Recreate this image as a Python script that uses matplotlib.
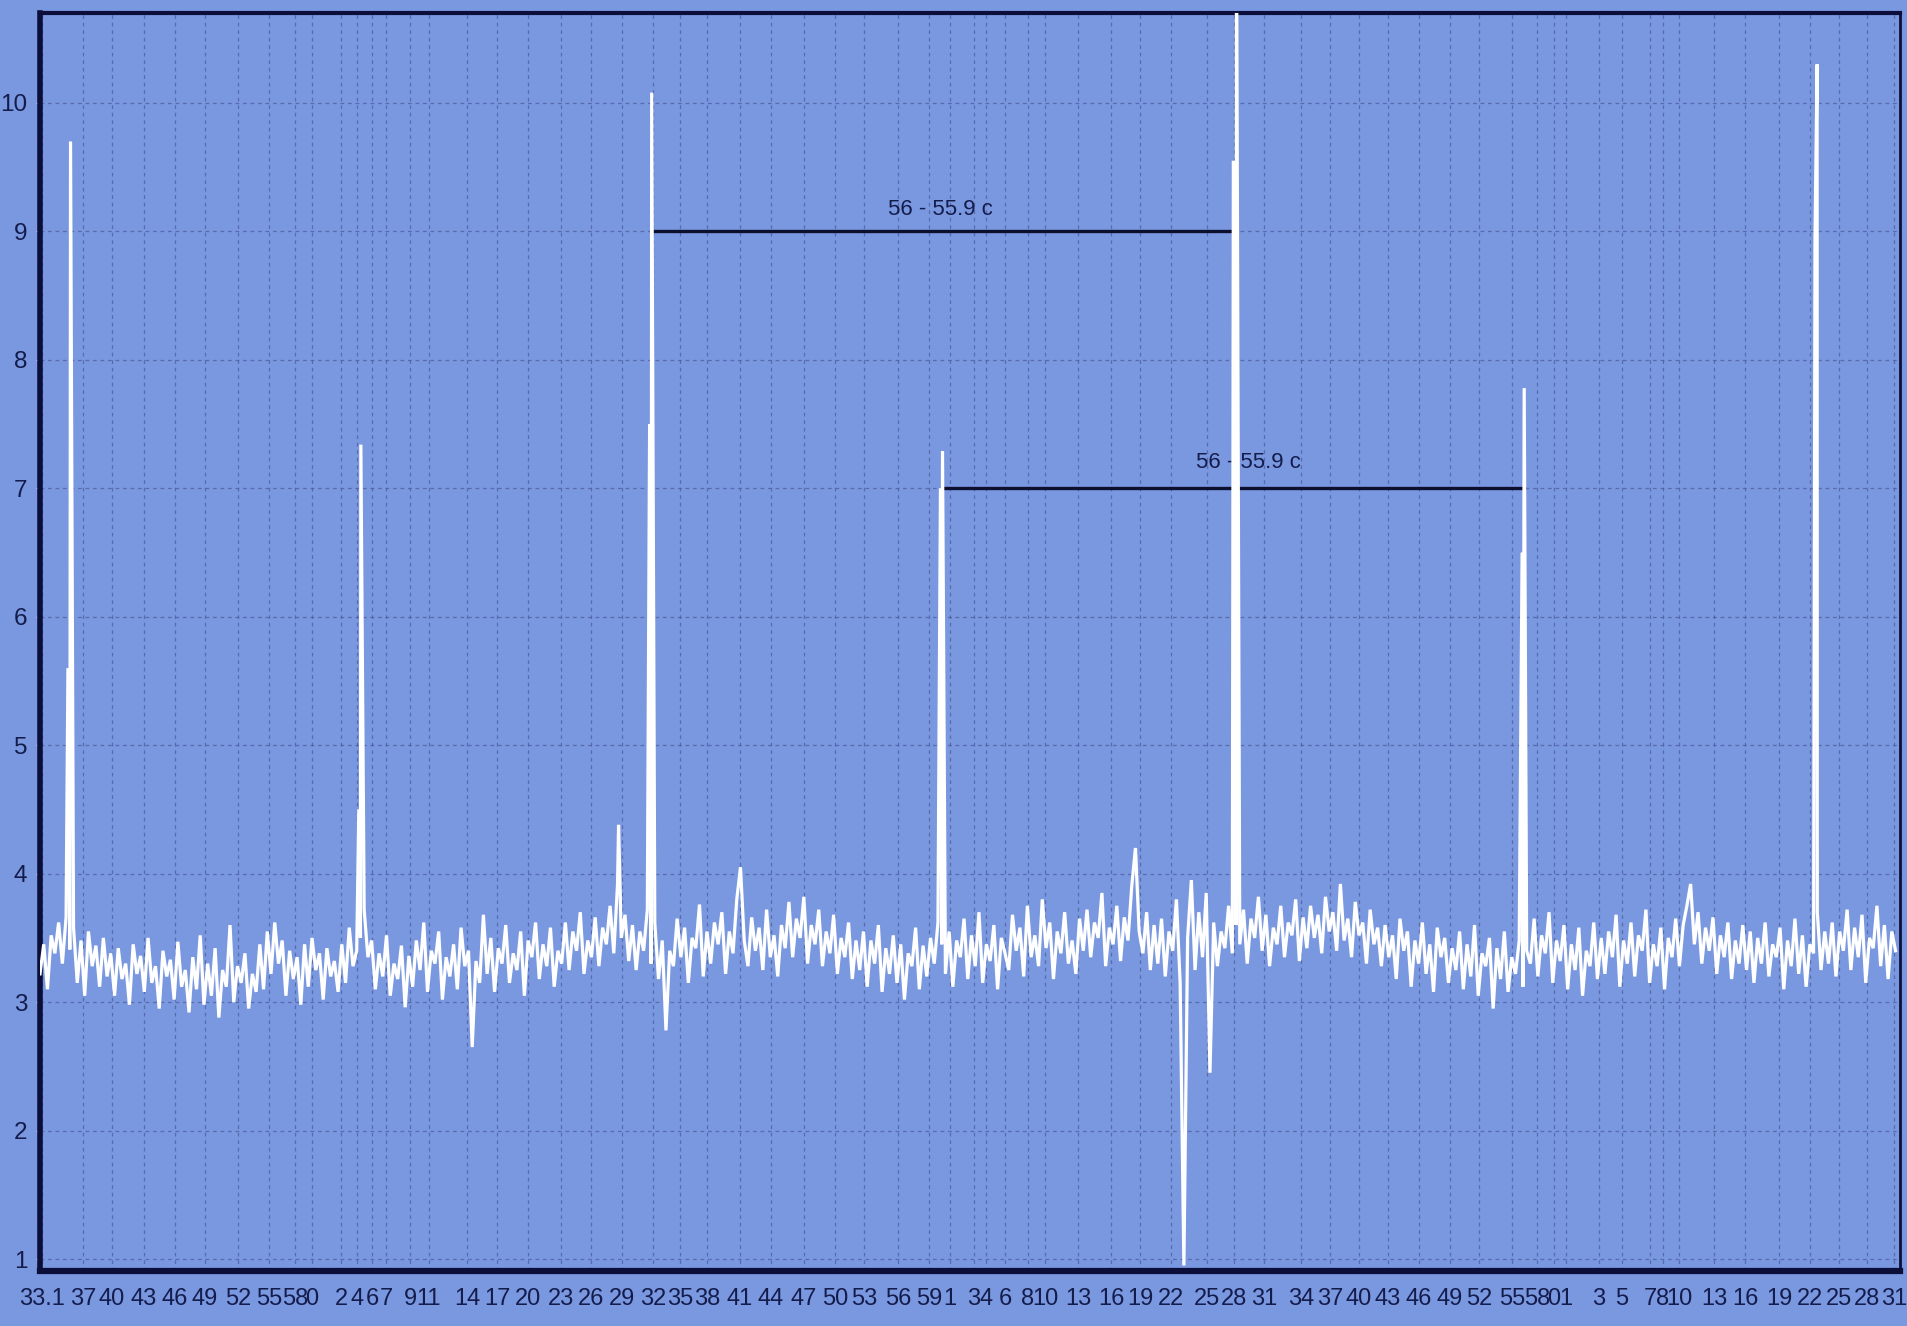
import numpy as np
import matplotlib
matplotlib.use("Agg")
import matplotlib.pyplot as plt
from matplotlib.ticker import MultipleLocator

# ---------------- data ----------------
sample_period = 0.36  # seconds between samples of the baseline signal

signal = [
    3.22, 3.45, 3.10, 3.52, 3.38, 3.62, 3.30, 3.66, 3.41, 3.58, 3.15, 3.48, 3.05, 3.55, 3.28, 3.44, 3.12, 3.50, 3.20, 3.38,
    3.05, 3.42, 3.18, 3.30, 2.98, 3.45, 3.22, 3.36, 3.08, 3.50, 3.15, 3.28, 2.95, 3.40, 3.20, 3.33, 3.02, 3.47, 3.12, 3.25,
    2.92, 3.35, 3.10, 3.52, 2.98, 3.30, 3.05, 3.42, 2.88, 3.25, 3.12, 3.60, 3.00, 3.28, 3.15, 3.38, 2.95, 3.22, 3.08, 3.45,
    3.10, 3.55, 3.22, 3.62, 3.30, 3.48, 3.05, 3.40, 3.18, 3.35, 2.98, 3.45, 3.12, 3.50, 3.25, 3.38, 3.02, 3.42, 3.20, 3.32,
    3.08, 3.45, 3.15, 3.58, 3.28, 3.40, 3.50, 3.72, 3.35, 3.48, 3.10, 3.38, 3.20, 3.52, 3.05, 3.30, 3.18, 3.44, 2.96, 3.36,
    3.12, 3.48, 3.25, 3.62, 3.08, 3.40, 3.30, 3.55, 3.02, 3.35, 3.20, 3.45, 3.10, 3.58, 3.28, 3.40, 2.65, 3.32, 3.15, 3.68,
    3.22, 3.50, 3.08, 3.42, 3.30, 3.60, 3.15, 3.38, 3.25, 3.55, 3.05, 3.48, 3.35, 3.62, 3.18, 3.45, 3.28, 3.58, 3.12, 3.40,
    3.30, 3.62, 3.25, 3.55, 3.40, 3.70, 3.22, 3.48, 3.35, 3.66, 3.28, 3.58, 3.45, 3.75, 3.38, 3.92, 3.50, 3.68, 3.32, 3.60,
    3.25, 3.55, 3.40, 3.72, 3.30, 3.62, 3.18, 3.48, 2.78, 3.40, 3.28, 3.65, 3.35, 3.58, 3.15, 3.50, 3.42, 3.76, 3.20, 3.55,
    3.30, 3.62, 3.45, 3.70, 3.22, 3.55, 3.38, 3.80, 4.05, 3.48, 3.28, 3.66, 3.40, 3.58, 3.25, 3.72, 3.35, 3.52, 3.20, 3.60,
    3.42, 3.78, 3.35, 3.65, 3.50, 3.82, 3.30, 3.60, 3.45, 3.72, 3.28, 3.55, 3.38, 3.68, 3.22, 3.50, 3.35, 3.62, 3.18, 3.48,
    3.25, 3.55, 3.12, 3.48, 3.30, 3.60, 3.08, 3.42, 3.22, 3.52, 3.15, 3.45, 3.02, 3.38, 3.28, 3.58, 3.10, 3.44, 3.20, 3.50,
    3.30, 3.62, 3.45, 3.22, 3.55, 3.12, 3.48, 3.35, 3.65, 3.18, 3.52, 3.28, 3.70, 3.15, 3.45, 3.32, 3.60, 3.10, 3.50, 3.38,
    3.25, 3.68, 3.40, 3.58, 3.20, 3.75, 3.35, 3.52, 3.28, 3.80, 3.42, 3.62, 3.18, 3.55, 3.38, 3.70, 3.30, 3.48, 3.22, 3.65,
    3.40, 3.72, 3.35, 3.62, 3.50, 3.85, 3.28, 3.58, 3.45, 3.75, 3.32, 3.66, 3.48, 3.90, 4.20, 3.55, 3.38, 3.70, 3.25, 3.60,
    3.30, 3.65, 3.20, 3.55, 3.40, 3.80, 3.15, 0.95, 3.50, 3.95, 3.25, 3.70, 3.35, 3.85, 2.45, 3.62, 3.28, 3.55, 3.42, 3.75,
    3.38, 3.60, 3.45, 3.72, 3.30, 3.65, 3.50, 3.82, 3.40, 3.68, 3.28, 3.58, 3.45, 3.75, 3.35, 3.62, 3.52, 3.80, 3.32, 3.66,
    3.42, 3.75, 3.50, 3.68, 3.38, 3.82, 3.55, 3.70, 3.40, 3.92, 3.48, 3.65, 3.35, 3.78, 3.52, 3.62, 3.30, 3.72, 3.45, 3.58,
    3.28, 3.60, 3.35, 3.52, 3.18, 3.65, 3.40, 3.55, 3.12, 3.48, 3.30, 3.62, 3.22, 3.45, 3.08, 3.58, 3.35, 3.50, 3.15, 3.42,
    3.25, 3.55, 3.10, 3.45, 3.20, 3.60, 3.05, 3.38, 3.28, 3.50, 2.95, 3.42, 3.18, 3.55, 3.08, 3.35, 3.22, 3.48, 3.12, 3.40,
    3.30, 3.65, 3.20, 3.52, 3.38, 3.70, 3.15, 3.48, 3.32, 3.60, 3.10, 3.45, 3.25, 3.58, 3.05, 3.40, 3.28, 3.62, 3.18, 3.50,
    3.22, 3.55, 3.35, 3.68, 3.12, 3.48, 3.30, 3.62, 3.20, 3.52, 3.40, 3.72, 3.15, 3.45, 3.28, 3.58, 3.10, 3.50, 3.35, 3.65,
    3.28, 3.60, 3.75, 3.92, 3.45, 3.70, 3.30, 3.58, 3.40, 3.66, 3.22, 3.52, 3.35, 3.62, 3.18, 3.48, 3.30, 3.60, 3.25, 3.55,
    3.15, 3.50, 3.30, 3.62, 3.20, 3.45, 3.35, 3.58, 3.10, 3.48, 3.28, 3.65, 3.22, 3.52, 3.12, 3.45, 3.38, 3.70, 3.25, 3.55,
    3.30, 3.62, 3.20, 3.55, 3.40, 3.72, 3.25, 3.58, 3.35, 3.68, 3.15, 3.50, 3.42, 3.75, 3.28, 3.60, 3.18, 3.55, 3.40,
]

# beat peaks (time in s, value)
peak_t = [2.70, 2.95, 30.8, 31.0, 55.9, 58.9, 59.1, 87.0, 87.2, 115.3, 115.6, 143.2, 143.4, 171.5, 171.7]
peak_v = [5.6, 9.7, 4.5, 7.34, 4.38, 7.5, 10.08, 7.0, 7.29, 9.55, 11.5, 6.5, 7.78, 8.97, 10.3]

# x tick positions (s) and their clock labels
tick_pos = [0.19, 4.15, 6.96, 10.05, 13.04, 15.94, 19.13, 22.13, 24.64, 26.28,
            29.08, 30.63, 32.08, 33.43, 35.75, 37.58, 41.26, 44.15, 47.15, 50.34,
            53.24, 56.23, 59.23, 61.84, 64.44, 67.63, 70.63, 73.82, 76.81, 79.61,
            82.90, 85.89, 87.92, 90.24, 91.40, 93.24, 95.46, 97.10, 100.29, 103.48,
            106.28, 109.28, 112.75, 115.36, 118.26, 121.84, 124.64, 127.44, 130.24, 133.24,
            136.23, 139.03, 142.22, 144.64, 146.28, 147.44, 150.63, 152.85, 155.56, 156.81,
            158.36, 161.74, 164.73, 168.02, 171.01, 173.82, 176.52, 179.13]
tick_labels = ["33.1", "37", "40", "43", "46", "49", "52", "55", "58", "0",
               "2", "4", "6", "7", "9", "11", "14", "17", "20", "23",
               "26", "29", "32", "35", "38", "41", "44", "47", "50", "53",
               "56", "59", "1", "3", "4", "6", "8", "10", "13", "16",
               "19", "22", "25", "28", "31", "34", "37", "40", "43", "46",
               "49", "52", "55", "58", "0", "1", "3", "5", "7", "8",
               "10", "13", "16", "19", "22", "25", "28", "31"]
y_ticks = [1, 2, 3, 4, 5, 6, 7, 8, 9, 10]

# interval annotations
ann_start = [59.1, 87.2]
ann_end = [115.6, 143.4]
ann_level = [9, 7]
ann_text = ["56 - 55.9 c", "56 - 55.9 c"]
ann_text_x = [87.0, 116.8]
ann_text_y = [9.17, 7.2]

# ---------------- style ----------------
BG = "#7A98E0"
NAVY = "#141C4C"
FONT = ["Liberation Sans Narrow", "Liberation Sans", "DejaVu Sans"]
plt.rcParams["font.family"] = FONT

fig = plt.figure(figsize=(19.07, 13.26), dpi=100, facecolor=BG)
ax = fig.add_axes([40 / 1907, 55 / 1326, 1860 / 1907, 1258 / 1326])
ax.set_facecolor(BG)

# build the full series
sig = np.asarray(signal, dtype=float)
t_sig = np.arange(len(sig)) * sample_period
t_all = np.concatenate([t_sig, np.asarray(peak_t)])
v_all = np.concatenate([sig, np.asarray(peak_v)])
order = np.argsort(t_all, kind="stable")
ax.plot(t_all[order], v_all[order], color="white", lw=2.3, zorder=4, solid_joinstyle="miter")

# annotations
for s, e, lv, txt, tx, ty in zip(ann_start, ann_end, ann_level, ann_text, ann_text_x, ann_text_y):
    ax.plot([s, e], [lv, lv], color="#0C0F2E", lw=2.4, zorder=3)
    ax.text(tx, ty, txt, ha="center", va="center", fontsize=16, color=NAVY, zorder=3)

ax.set_xlim(0, 179.71)
ax.set_ylim(0.907, 10.70)

ax.set_xticks(tick_pos)
ax.set_xticklabels(tick_labels)
ax.set_yticks(y_ticks)
ax.set_yticklabels([str(v) for v in y_ticks])
ax.yaxis.set_minor_locator(MultipleLocator(0.25))

ax.tick_params(axis="x", which="major", length=0, pad=12, labelsize=17, labelcolor=NAVY,
               top=True, direction="in")
ax.tick_params(axis="y", which="major", length=3, pad=6, labelsize=17.5, labelcolor=NAVY,
               color="#D0DAF2", direction="out")
ax.tick_params(axis="y", which="minor", length=2, color="#C8D4F0", direction="out")

ax.grid(True, which="major", axis="both", color="#4C5C9C", lw=0.9,
        linestyle=(0, (3, 3)), alpha=0.75, zorder=1)
ax.set_axisbelow(True)

for side, w in (("left", 4.0), ("bottom", 4.5), ("top", 3.0), ("right", 2.0)):
    ax.spines[side].set_color("#0A0E38")
    ax.spines[side].set_linewidth(w)

fig.savefig("out.png", dpi=100, facecolor=BG)
